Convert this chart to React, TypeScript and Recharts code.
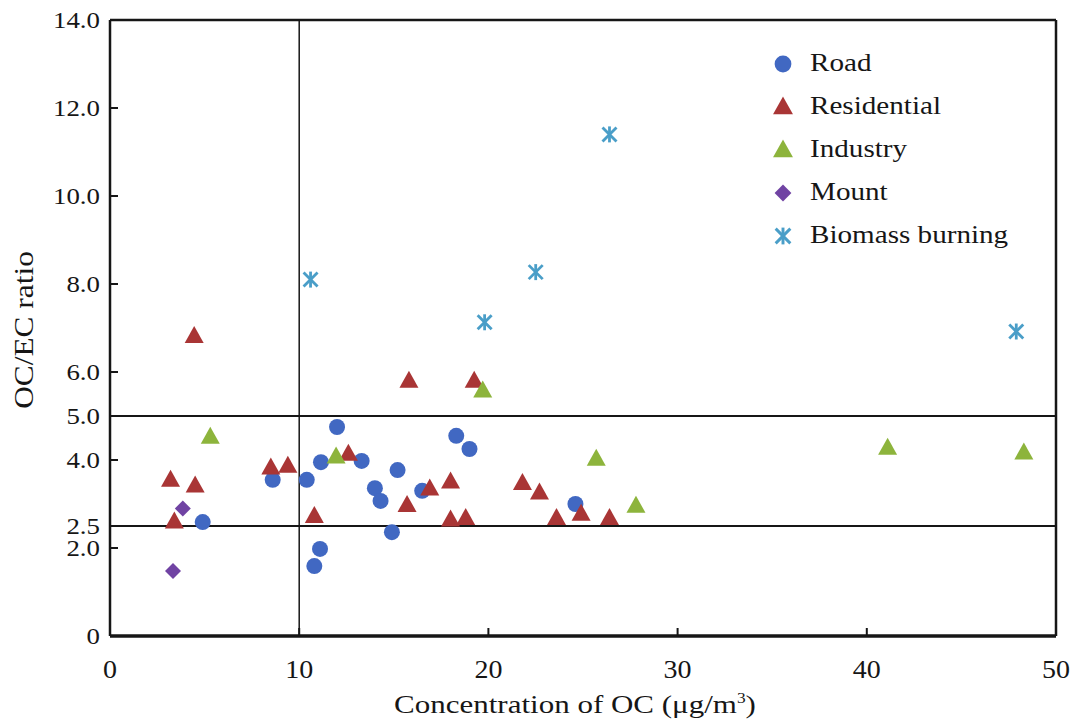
import React from 'react';
import { ScatterChart, Scatter, XAxis, YAxis, ReferenceLine, Legend, Label } from 'recharts';

const xTicks = [0, 10, 20, 30, 40, 50];
const xTickLabels = ['0', '10', '20', '30', '40', '50'];
const yTicks = [0, 2, 2.5, 4, 5, 6, 8, 10, 12, 14];
const yTickLabels = ['0', '2.0', '2.5', '4.0', '5.0', '6.0', '8.0', '10.0', '12.0', '14.0'];

const road = [
  [4.9, 2.59], [8.6, 3.55], [10.4, 3.55], [11.15, 3.95], [12.0, 4.75], [13.3, 3.98],
  [14.0, 3.36], [14.3, 3.07], [15.2, 3.77], [14.9, 2.36], [10.8, 1.59], [11.1, 1.98],
  [16.5, 3.3], [18.3, 4.55], [19.0, 4.25], [24.6, 3.0],
];
const residential = [
  [4.45, 6.82], [3.2, 3.55], [4.5, 3.42], [3.4, 2.6], [8.5, 3.83], [9.4, 3.87],
  [10.8, 2.73], [12.6, 4.14], [15.7, 2.98], [16.9, 3.35], [18.0, 3.51], [18.0, 2.65],
  [18.8, 2.68], [21.8, 3.48], [22.7, 3.26], [23.6, 2.68], [24.9, 2.78], [26.4, 2.68],
  [15.8, 5.8], [19.25, 5.8],
];
const industry = [
  [5.3, 4.53], [11.95, 4.08], [19.7, 5.58], [25.7, 4.03], [27.8, 2.96], [41.1, 4.28], [48.3, 4.17],
];
const mount = [[3.85, 2.9], [3.33, 1.48]];
const biomass = [[10.6, 8.1], [22.5, 8.27], [19.8, 7.13], [26.4, 11.4], [47.9, 6.92]];

const BLUE = '#4168c2';
const RED = '#a93535';
const GREEN = '#8db43c';
const PURPLE = '#7043a3';
const CYAN = '#4a9ec8';
const INK = '#161616';
const FONT = '"Liberation Serif", "Times New Roman", serif';

const toPts = (arr: number[][]) => arr.map(([x, y]) => ({ x, y }));

const CircleMark = ({ cx, cy, s = 1, color = BLUE }: any) => <circle cx={cx} cy={cy} r={8 * s} fill={color} />;
const TriMark = ({ cx, cy, s = 1, color }: any) => (
  <polygon
    points={`${cx},${cy - 10 * s} ${cx + 9.5 * s},${cy + 7 * s} ${cx - 9.5 * s},${cy + 7 * s}`}
    fill={color}
  />
);
const DiamondMark = ({ cx, cy, s = 1, color = PURPLE }: any) => {
  const d = 8 * s;
  return <polygon points={`${cx},${cy - d} ${cx + d},${cy} ${cx},${cy + d} ${cx - d},${cy}`} fill={color} />;
};
const StarMark = ({ cx, cy, s = 1, color = CYAN }: any) => (
  <g stroke={color} strokeWidth={2.8 * s} strokeLinecap="butt">
    <line x1={cx - 7 * s} y1={cy - 7 * s} x2={cx + 7 * s} y2={cy + 7 * s} />
    <line x1={cx - 7 * s} y1={cy + 7 * s} x2={cx + 7 * s} y2={cy - 7 * s} />
    <line x1={cx} y1={cy - 8 * s} x2={cx} y2={cy + 8 * s} />
  </g>
);

const seriesList = [
  { name: 'Road', data: road, color: BLUE, Mark: CircleMark },
  { name: 'Residential', data: residential, color: RED, Mark: TriMark },
  { name: 'Industry', data: industry, color: GREEN, Mark: TriMark },
  { name: 'Mount', data: mount, color: PURPLE, Mark: DiamondMark },
  { name: 'Biomass burning', data: biomass, color: CYAN, Mark: StarMark },
];

const YTick = ({ x, y, payload }: any) => {
  const i = yTicks.indexOf(payload.value);
  return (
    <g transform={`translate(${x},${y})`}>
      <text transform="scale(1.12,1)" textAnchor="end" dy={8} fontFamily={FONT} fontSize={24} fill={INK}>
        {yTickLabels[i]}
      </text>
    </g>
  );
};

const XTick = ({ x, y, payload }: any) => {
  const i = xTicks.indexOf(payload.value);
  return (
    <g transform={`translate(${x},${y})`}>
      <text transform="scale(1.12,1)" textAnchor="middle" dy={32} fontFamily={FONT} fontSize={25} fill={INK}>
        {xTickLabels[i]}
      </text>
    </g>
  );
};

const LegendContent = ({ payload }: any) => {
  const items = seriesList.filter((s) => (payload || []).some((p: any) => p.value === s.name));
  return (
    <div style={{ fontFamily: FONT }}>
      {items.map((s) => {
        const M = s.Mark;
        return (
          <div key={s.name} style={{ display: 'flex', alignItems: 'center', height: 42.8 }}>
            <svg width={26} height={26} style={{ marginRight: 14 }}>
              <M cx={13} cy={14} s={1.05} color={s.color} />
            </svg>
            <span style={{ fontSize: 26, color: INK, display: 'inline-block', transform: 'scaleX(1.12)', transformOrigin: 'left center', whiteSpace: 'nowrap' }}>
              {s.name}
            </span>
          </div>
        );
      })}
    </div>
  );
};

export default function App() {
  return (
    <div style={{ position: 'absolute', left: 0, top: 0, background: '#fff' }}>
      <ScatterChart width={1072} height={725} margin={{ top: 20, right: 16, bottom: 0, left: 0 }}>
        <XAxis
          type="number"
          dataKey="x"
          domain={[0, 50]}
          ticks={xTicks}
          interval={0}
          height={89}
          tickSize={-8}
          tickMargin={18}
          tick={<XTick />}
          tickLine={{ stroke: INK, strokeWidth: 2 }}
          axisLine={{ stroke: INK, strokeWidth: 3.5 }}
        >
          <Label
            content={({ viewBox }: any) => (
              <g transform={`translate(${viewBox.x + viewBox.width / 2 - 8},${viewBox.y + 77})`}>
                <text transform="scale(1.24,1)" textAnchor="middle" fontFamily={FONT} fontSize={25} fill={INK}>
                  Concentration of OC (μg/m<tspan dy={-10} fontSize={14}>3</tspan><tspan dy={10}>)</tspan>
                </text>
              </g>
            )}
          />
        </XAxis>
        <YAxis
          type="number"
          dataKey="y"
          domain={[0, 14]}
          ticks={yTicks}
          interval={0}
          width={110}
          tickSize={-8}
          tickMargin={18}
          tick={<YTick />}
          tickLine={{ stroke: INK, strokeWidth: 2 }}
          axisLine={{ stroke: INK, strokeWidth: 2.5 }}
        >
          <Label
            content={({ viewBox }: any) => (
              <g transform={`translate(${viewBox.x + 33},${viewBox.y + viewBox.height / 2 + 2}) rotate(-90)`}>
                <text transform="scale(1.12,1)" textAnchor="middle" fontFamily={FONT} fontSize={28} fill={INK}>
                  OC/EC ratio
                </text>
              </g>
            )}
          />
        </YAxis>
        <ReferenceLine y={14} stroke={INK} strokeWidth={2.5} ifOverflow="visible" />
        <ReferenceLine x={50} stroke={INK} strokeWidth={2.5} ifOverflow="visible" />
        <ReferenceLine y={5} stroke={INK} strokeWidth={1.8} />
        <ReferenceLine y={2.5} stroke={INK} strokeWidth={1.8} />
        <ReferenceLine x={10} stroke={INK} strokeWidth={1.5} />
        <Legend
          layout="horizontal"
          verticalAlign="middle"
          align="center"
          content={<LegendContent />}
          wrapperStyle={{ top: 42, left: 770, width: 290, height: 220 }}
        />
        {seriesList.map((s) => (
          <Scatter
            key={s.name}
            name={s.name}
            data={toPts(s.data)}
            fill={s.color}
            isAnimationActive={false}
            shape={(props: any) => <s.Mark cx={props.cx} cy={props.cy} color={s.color} />}
          />
        ))}
      </ScatterChart>
    </div>
  );
}
